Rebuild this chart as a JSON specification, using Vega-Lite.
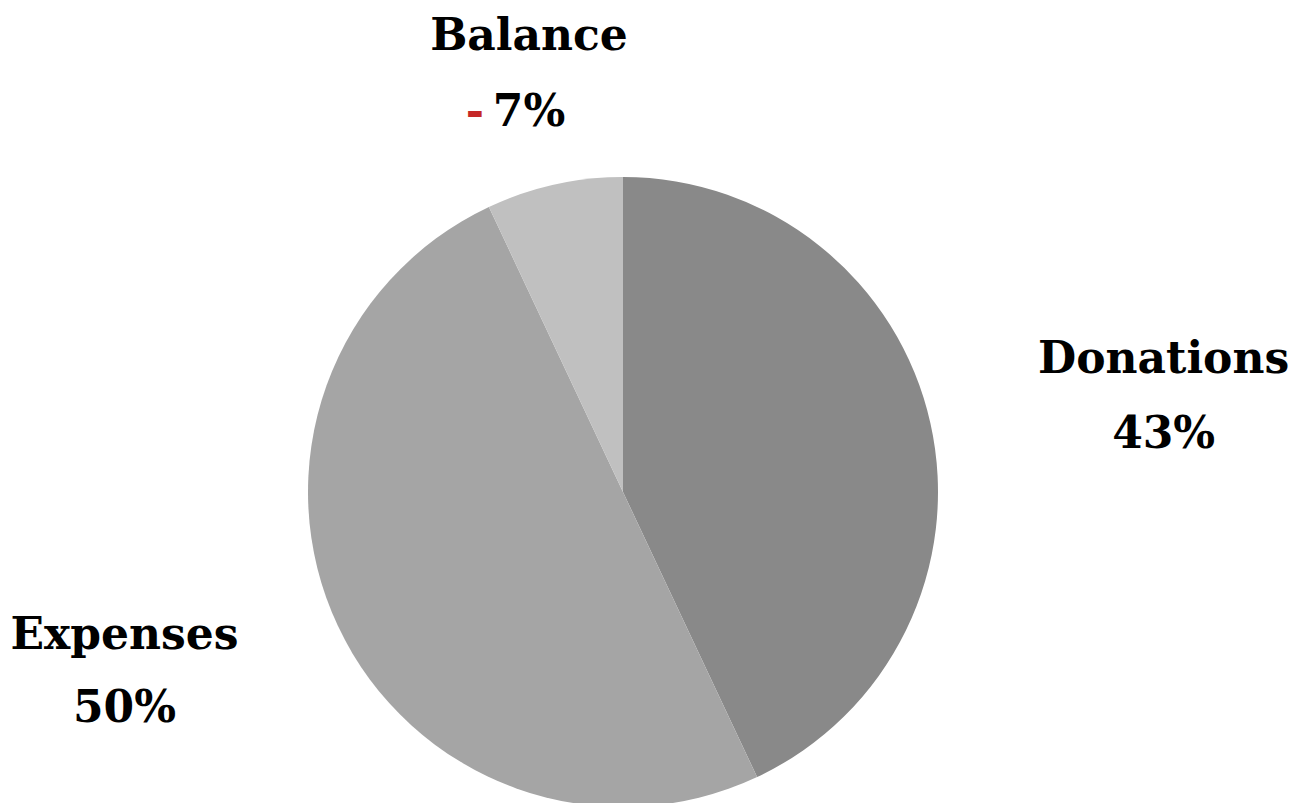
{
  "$schema": "https://vega.github.io/schema/vega-lite/v6.json",
  "autosize": {"type": "none"},
  "width": 1246,
  "height": 984,
  "padding": {"left": 0, "top": 0, "right": 60, "bottom": 0},
  "background": "white",
  "view": {"stroke": null},
  "data": {
    "values": [
      {"category": "Donations", "value": 43, "pct": "43%", "rank": 1},
      {"category": "Expenses", "value": 50, "pct": "50%", "rank": 2},
      {"category": "Balance", "value": 7, "pct": "7%", "rank": 3}
    ]
  },
  "encoding": {
    "theta": {"field": "value", "type": "quantitative", "stack": true},
    "order": {"field": "rank", "type": "quantitative"}
  },
  "layer": [
    {
      "mark": {"type": "arc", "outerRadius": 315, "stroke": null},
      "encoding": {
        "color": {
          "field": "category",
          "type": "nominal",
          "scale": {"domain": ["Donations", "Expenses", "Balance"], "range": ["#898989", "#a5a5a5", "#c0c0c0"]},
          "legend": null
        }
      }
    },
    {
      "mark": {
        "type": "text",
        "radius": {"expr": "datum.category == 'Donations' ? 554 : datum.category == 'Expenses' ? 551 : 431"},
        "dy": {"expr": "datum.category == 'Donations' ? -11 : datum.category == 'Expenses' ? -91 : -34"},
        "font": "DejaVu Serif", "fontWeight": "bold", "fontSize": 44, "color": "#000000",
        "align": "center", "baseline": "middle"
      },
      "encoding": {"text": {"field": "category"}}
    },
    {
      "mark": {
        "type": "text",
        "radius": {"expr": "datum.category == 'Donations' ? 554 : datum.category == 'Expenses' ? 551 : 431"},
        "dy": {"expr": "datum.category == 'Donations' ? 64 : datum.category == 'Expenses' ? -18 : 42"},
        "font": "DejaVu Serif", "fontWeight": "bold", "fontSize": 44, "color": "#000000",
        "align": "center", "baseline": "middle"
      },
      "encoding": {"text": {"field": "pct"}}
    },
    {
      "mark": {
        "type": "text",
        "radius": {"expr": "datum.category == 'Donations' ? 554 : datum.category == 'Expenses' ? 551 : 431"},
        "dx": -54,
        "dy": 42,
        "font": "DejaVu Serif", "fontWeight": "bold", "fontSize": 44, "color": "#c62828",
        "align": "center", "baseline": "middle"
      },
      "encoding": {"text": {"condition": {"test": "datum.category == 'Balance'", "value": "-"}, "value": ""}}
    }
  ]
}
